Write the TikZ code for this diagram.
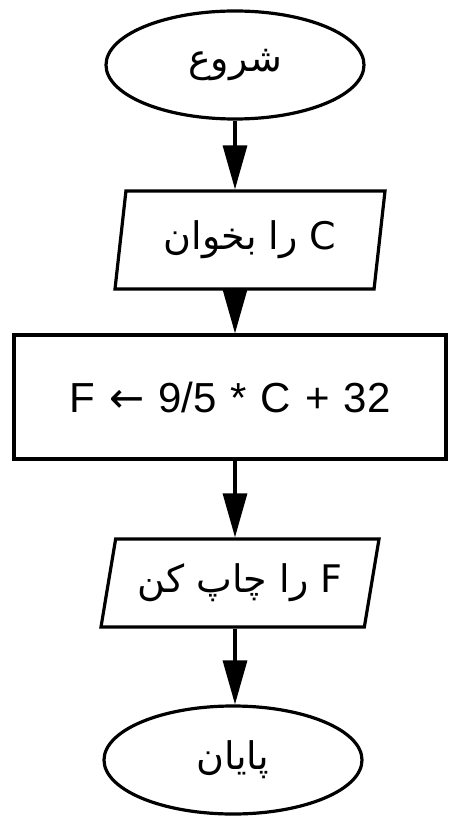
\documentclass[tikz,border=0pt]{standalone}
\usepackage{fontspec}
\setmainfont{Liberation Sans}
\newfontfamily\arabicfont[Script=Arabic]{DejaVu Sans}
\newfontfamily\symfont{DejaVu Sans}
\TeXXeTstate=1
\usetikzlibrary{arrows.meta,shapes.geometric}
\newcommand{\chartfont}{\fontsize{42}{48}\selectfont}
\newcommand{\fasifont}{\fontsize{38}{44}\selectfont\arabicfont}
\begin{document}
\begin{tikzpicture}[x=1pt,y=-1pt,font=\chartfont,
  terminal/.style={ellipse,draw,line width=3.2pt,minimum width=258,minimum height=108,inner sep=0,font=\fasifont},
  iobox/.style={trapezium,trapezium stretches body,draw,line width=3.2pt,inner sep=0,font=\fasifont},
  procbox/.style={rectangle,draw,line width=3.2pt,minimum width=432,minimum height=124,inner sep=0},
  flow/.style={line width=3.2pt,-{Triangle[length=44pt,width=24pt]}}]
\useasboundingbox (0,0) rectangle (451,818);
\node[terminal] (start) at (235,65) {\beginR شروع\endR};
\node[iobox,trapezium left angle=74,trapezium right angle=106,minimum height=98,minimum width=270] (readc) at (250,240) {\beginR C را بخوان\endR};
\node[procbox] (calc) at (230,397) {F\,\,{\symfont ←}\,\,9/5\,\,*\,\,C\,\,+\,\,32\hspace{14pt}};
\node[iobox,trapezium left angle=69,trapezium right angle=111,minimum height=88,minimum width=278] (printf) at (240,583) {\beginR F را چاپ کن\endR};
\node[terminal] (stop) at (233,760) {\beginR پایان\endR};
\draw[flow] (start.south) -- (start.south |- readc.north);
\draw[flow] (readc.south -| start.south) -- (start.south |- calc.north);
\draw[flow] (calc.south -| start.south) -- (start.south |- printf.north);
\draw[flow] (printf.south -| start.south) -- (start.south |- stop.north);
\end{tikzpicture}
\end{document}
